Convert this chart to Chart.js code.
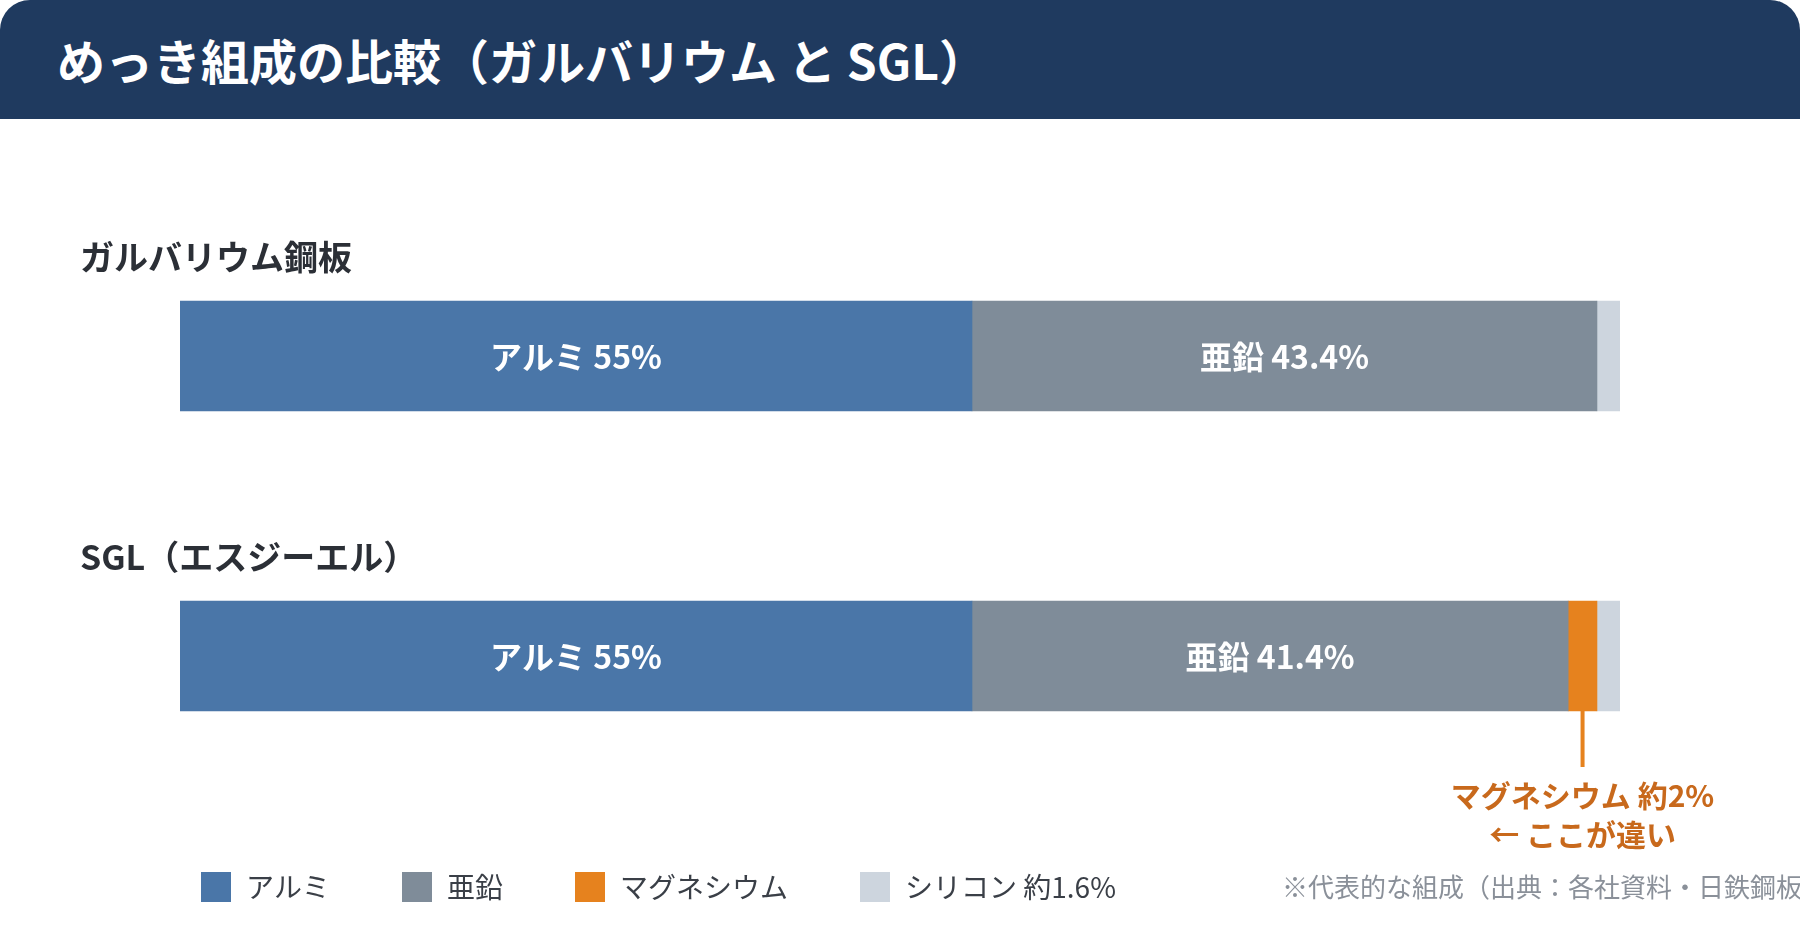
<!DOCTYPE html>
<html lang="ja">
<head>
<meta charset="utf-8">
<title>めっき組成の比較</title>
<script src="https://cdn.jsdelivr.net/npm/chart.js@4.4.1/dist/chart.umd.min.js"></script>
<style>
    html, body { margin: 0; padding: 0; background: #fff; }
    body { width: 1800px; height: 940px; position: relative; overflow: hidden; font-family: "Noto Sans CJK JP", sans-serif; }
    #header { position: absolute; left: 0; top: 0; width: 1800px; height: 119px; background: #1F3A5F; border-radius: 30px 30px 0 0; }
    #header h1 { margin: 0; position: absolute; left: 57px; top: 0; line-height: 119px; font-size: 48px; font-weight: 700; color: #fff; white-space: nowrap; }
    #wrap { position: absolute; left: 0; top: 119px; width: 1800px; height: 821px; }
</style>
</head>
<body>
<div id="header"><h1>めっき組成の比較（ガルバリウム と SGL）</h1></div>
<div id="wrap"><canvas id="plating" width="1800" height="821"></canvas></div>
<script>
// DATA
const categories = ['ガルバリウム鋼板', 'SGL（エスジーエル）'];
const seriesNames = ['アルミ', '亜鉛', 'マグネシウム', 'シリコン'];
const alumi = [55, 55];
const zinc = [43.4, 41.4];
const magnesium = [null, 2];
const silicon = [1.6, 1.6];
const legendLabels = ['アルミ', '亜鉛', 'マグネシウム', 'シリコン 約1.6%'];
const calloutLines = ['マグネシウム 約2%', '← ここが違い'];
const noteText = '※代表的な組成（出典：各社資料・日鉄鋼板';

const colors = ['#4A76A8', '#7F8C99', '#E6821E', '#CDD5DE'];
const fontFamily = '"Noto Sans CJK JP", sans-serif';

// LABELS, CALLOUT AND LEGEND
const decorations = {
    id: 'decorations',
    afterDatasetsDraw(chart)
    {
        const ctx = chart.ctx;
        const area = chart.chartArea;
        ctx.save();

        // values inside alumi / zinc bars
        ctx.fillStyle = '#fff';
        ctx.font = 'bold 32px ' + fontFamily;
        ctx.textAlign = 'center';
        ctx.textBaseline = 'middle';
        [0, 1].forEach(function (d)
        {
            chart.getDatasetMeta(d).data.forEach(function (el, i)
            {
                let v = chart.data.datasets[d].data[i];
                ctx.fillText(seriesNames[d] + ' ' + v + '%', (el.x + el.base) / 2, el.y + 1);
            });
        });

        // category names above each bar
        ctx.fillStyle = '#2B2F36';
        ctx.font = 'bold 34px ' + fontFamily;
        ctx.textAlign = 'left';
        chart.getDatasetMeta(0).data.forEach(function (el, i)
        {
            ctx.fillText(categories[i], 80, el.y - el.height / 2 - 44);
        });

        // magnesium callout
        let mg = chart.getDatasetMeta(2).data[1];
        let cx = (mg.x + mg.base) / 2;
        let bottom = mg.y + mg.height / 2;
        ctx.strokeStyle = colors[2];
        ctx.lineWidth = 4;
        ctx.beginPath();
        ctx.moveTo(cx, bottom);
        ctx.lineTo(cx, bottom + 56);
        ctx.stroke();
        ctx.fillStyle = '#C8691C';
        ctx.font = 'bold 30px ' + fontFamily;
        ctx.textAlign = 'center';
        ctx.fillText(calloutLines[0], cx, bottom + 85);
        ctx.fillText(calloutLines[1], cx, bottom + 124);

        // legend
        let ly = area.bottom + 81;
        let x = 201;
        ctx.font = '28px ' + fontFamily;
        ctx.textAlign = 'left';
        legendLabels.forEach(function (t, i)
        {
            ctx.fillStyle = colors[i];
            ctx.fillRect(x, ly - 15, 30, 30);
            ctx.fillStyle = '#3A3F47';
            ctx.fillText(t, x + 45, ly);
            x = x + 45 + ctx.measureText(t).width + 72;
        });

        // source note
        ctx.fillStyle = '#8A9099';
        ctx.font = '26px ' + fontFamily;
        ctx.fillText(noteText, 1282, ly);

        ctx.restore();
    }
};

Chart.defaults.font.family = fontFamily;

let ctx = document.getElementById('plating').getContext('2d');
new Chart(ctx,
{
    type: 'bar',
    data: {
        labels: categories,
        datasets: seriesNames.map(function (name, i)
        {
            return {
                label: name,
                data: [alumi, zinc, magnesium, silicon][i],
                backgroundColor: colors[i],
                borderWidth: 0,
                barThickness: 110
            };
        })
    },
    options:
    {
        indexAxis: 'y',
        responsive: false,
        animation: false,
        layout: { padding: { left: 180, right: 180, top: 87, bottom: 134 } },
        scales:
        {
            x: { stacked: true, min: 0, max: 100, display: false },
            y: { stacked: true, display: false }
        },
        plugins:
        {
            legend: { display: false },
            tooltip: { enabled: false }
        }
    },
    plugins: [decorations]
});
</script>
</body>
</html>
